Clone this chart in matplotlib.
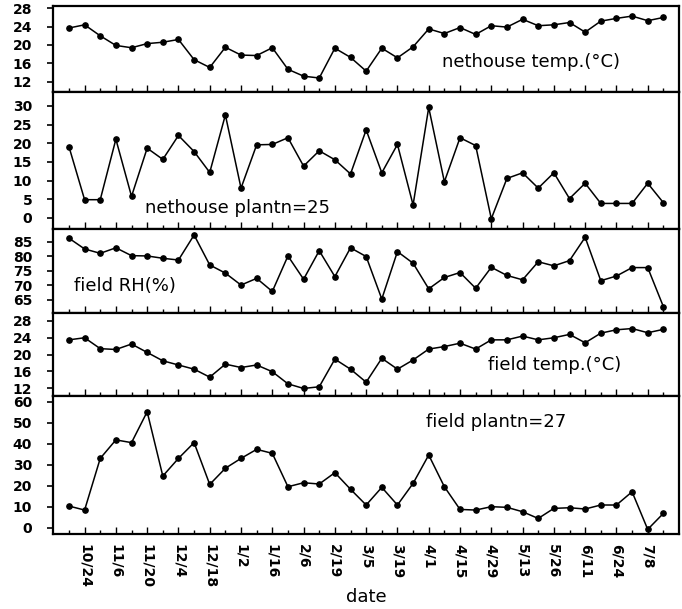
import matplotlib
matplotlib.use("Agg")
import matplotlib.pyplot as plt
import numpy as np
from matplotlib.ticker import FixedLocator, NullFormatter, FixedFormatter

date_labels = ["10/24", "11/6", "11/20", "12/4", "12/18", "1/2", "1/16", "2/6", "2/19",
               "3/5", "3/19", "4/1", "4/15", "4/29", "5/13", "5/26", "6/11", "6/24", "7/8"]

nethouse_temp = [23.7, 24.4, 22.0, 19.9, 19.4, 20.3, 20.6, 21.2, 16.8, 15.1,
                 19.5, 17.8, 17.7, 19.4, 14.7, 13.2, 12.8, 19.3, 17.3, 14.3,
                 19.3, 17.2, 19.6, 23.5, 22.5, 23.8, 22.3, 24.2, 23.9, 25.6,
                 24.2, 24.4, 24.9, 22.8, 25.2, 25.8, 26.3, 25.3, 26.0]
nethouse_plantn = [19.1, 4.9, 4.9, 21.1, 5.8, 18.7, 15.7, 22.1, 17.8, 12.2,
                   27.6, 8.0, 19.6, 19.7, 21.5, 13.9, 18.0, 15.6, 11.8, 23.6,
                   12.1, 19.7, 3.5, 29.6, 9.7, 21.5, 19.4, -0.2, 10.6, 12.1,
                   8.0, 12.1, 5.2, 9.3, 3.9, 3.9, 3.9, 9.3, 4.1]
field_rh = [86.2, 82.5, 81.0, 82.9, 80.2, 80.1, 79.3, 78.7, 87.3, 77.0,
            74.2, 70.1, 72.4, 67.9, 80.1, 72.1, 81.9, 73.0, 82.9, 79.9,
            65.3, 81.6, 77.6, 68.8, 72.7, 74.4, 69.0, 76.2, 73.4, 71.9,
            78.1, 76.7, 78.5, 86.5, 71.6, 73.2, 76.1, 76.1, 62.7]
field_temp = [23.5, 24.0, 21.4, 21.2, 22.5, 20.5, 18.5, 17.5, 16.5, 14.6,
              17.7, 16.9, 17.5, 15.9, 13.0, 11.9, 12.3, 18.9, 16.5, 13.4,
              19.1, 16.5, 18.7, 21.3, 21.9, 22.7, 21.3, 23.5, 23.5, 24.4,
              23.5, 24.0, 24.8, 22.8, 25.1, 25.9, 26.2, 25.2, 26.0]
field_plantn = [10.3, 8.4, 33.0, 41.8, 40.5, 55.2, 24.6, 33.0, 40.5, 20.6,
                28.3, 33.0, 37.3, 35.4, 19.5, 21.4, 20.8, 26.2, 18.3, 10.8,
                19.2, 10.8, 21.1, 34.6, 19.5, 8.7, 8.4, 10.0, 9.7, 7.6,
                4.4, 9.2, 9.5, 8.9, 10.8, 10.8, 17.1, -0.8, 6.8]

series = [nethouse_temp, nethouse_plantn, field_rh, field_temp, field_plantn]
titles = ["nethouse temp.(\u00b0C)", "nethouse plantn=25", "field RH(%)",
          "field temp.(\u00b0C)", "field plantn=27"]
yticks = [[12, 16, 20, 24, 28], [0, 5, 10, 15, 20, 25, 30], [65, 70, 75, 80, 85],
          [12, 16, 20, 24, 28], [0, 10, 20, 30, 40, 50, 60]]
ylims = [(9.75, 28.5), (-2.95, 33.75), (60.6, 89.36), (10.1, 29.98), (-3.0, 62.7)]
# title positions in figure pixels (left x, center y)
title_pos = [(442, 62), (145, 208), (74, 286), (488, 365), (426, 422)]

W, H = 682, 609
fig = plt.figure(figsize=(W / 100, H / 100), dpi=100)
bounds_px = [6, 92, 229, 312.7, 396, 534]
left_px, right_px = 53, 679

x = np.arange(len(nethouse_temp))
major = list(range(1, len(x), 2))
minor = list(range(0, len(x), 2))

for k in range(5):
    top, bot = bounds_px[k], bounds_px[k + 1]
    ax = fig.add_axes([left_px / W, 1 - bot / H, (right_px - left_px) / W, (bot - top) / H])
    ax.plot(x, series[k], color="black", lw=1.1, marker="o", ms=3.8,
            mfc="black", mec="black")
    ax.set_xlim(-1.02, 39.0)
    ax.set_ylim(*ylims[k])
    ax.yaxis.set_major_locator(FixedLocator(yticks[k]))
    ax.xaxis.set_major_locator(FixedLocator(major))
    ax.xaxis.set_minor_locator(FixedLocator(minor))
    for s in ax.spines.values():
        s.set_linewidth(1.6)
    ax.tick_params(axis="y", direction="out", length=4, width=1.2, pad=11,
                   labelsize=10)
    ax.tick_params(axis="x", which="major", direction="in", length=5, width=1.0)
    ax.tick_params(axis="x", which="minor", direction="in", length=3, width=1.0)
    for lab in ax.get_yticklabels():
        lab.set_fontweight("bold")
    if k < 4:
        ax.xaxis.set_major_formatter(NullFormatter())
    else:
        ax.xaxis.set_major_formatter(FixedFormatter(date_labels))
        ax.tick_params(axis="x", which="major", pad=7, labelsize=10, labelrotation=-90)
        for lab in ax.get_xticklabels():
            lab.set_fontweight("bold")
            lab.set_va("top")
    tx, ty = title_pos[k]
    fig.text(tx / W, 1 - ty / H, titles[k], ha="left", va="center", fontsize=13)

fig.text(366 / W, 1 - 597 / H, "date", ha="center", va="center", fontsize=13)

fig.savefig("out.png", dpi=100)
